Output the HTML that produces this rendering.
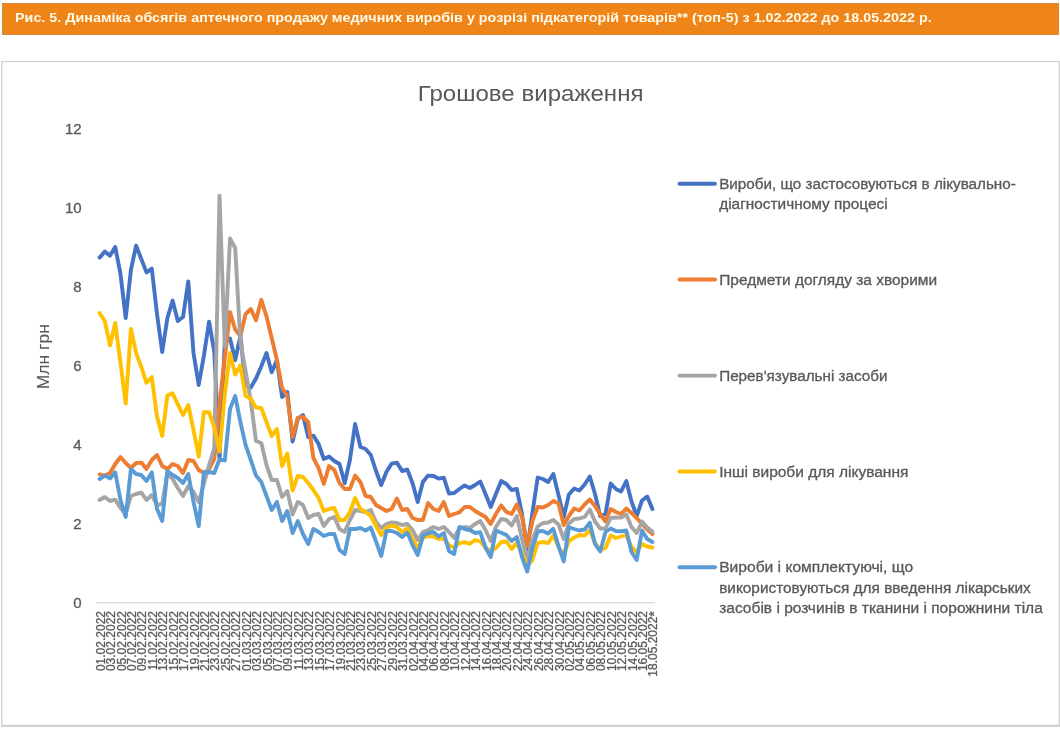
<!DOCTYPE html>
<html><head><meta charset="utf-8">
<style>
html,body{margin:0;padding:0;background:#fff;}
body{width:1060px;height:729px;position:relative;overflow:hidden;font-family:"Liberation Sans",sans-serif;}
#banner{position:absolute;left:2px;top:3px;width:1057px;height:32px;background:#EF8418;box-sizing:border-box;border:1px solid #D98A3C;}
#banner span{position:absolute;left:12px;top:5.7px;font-weight:bold;font-size:13.5px;line-height:16px;color:#FFFBEA;white-space:nowrap;transform:scaleX(1.062);transform-origin:0 0;will-change:transform;}
#frame{position:absolute;left:1px;top:61px;width:1058px;height:666px;box-sizing:border-box;border:2px solid #D4D4D4;border-top-width:1px;background:#fff;}
svg{position:absolute;left:0;top:0;will-change:transform;}
svg text{font-family:"Liberation Sans",sans-serif;fill:#595959;stroke:#595959;stroke-width:0.3px;}
.xl{font-size:12.0px;}
.yl{font-size:15px;}
.lg{font-size:14px;}
.ttl{font-size:22.5px;stroke-width:0;}
.yt{font-size:17px;stroke-width:0.1px;}
path{fill:none;stroke-width:3.9;stroke-linejoin:round;stroke-linecap:round;}
</style></head><body>
<div id="banner"><span>Рис. 5. Динаміка обсягів аптечного продажу медичних виробів у розрізі підкатегорій товарів** (топ-5) з 1.02.2022 до 18.05.2022 р.</span></div>
<svg width="1060" height="729" viewBox="0 0 1060 729">
<g stroke="#D2D2D2" fill="none">
<line x1="1" x2="1060" y1="61.6" y2="61.6" stroke-width="1.1"/>
<line x1="1.7" x2="1.7" y1="61" y2="727" stroke-width="1.4"/>
<line x1="1059.3" x2="1059.3" y1="61" y2="727" stroke-width="1.4"/>
<line x1="1" x2="1060" y1="725.8" y2="725.8" stroke-width="2.3" stroke="#D0D0D0"/>
</g>
<text x="530.6" y="100.7" text-anchor="middle" class="ttl" textLength="225.7" lengthAdjust="spacingAndGlyphs">Грошове вираження</text>
<text transform="translate(48.7 356.7) rotate(-90)" text-anchor="middle" class="yt" textLength="65" lengthAdjust="spacingAndGlyphs">Млн грн</text>
<line x1="96.5" x2="655" y1="602.6" y2="602.6" stroke="#D9D9D9" stroke-width="1.2"/>
<text x="81.6" y="607.9" text-anchor="end" class="yl">0</text>
<text x="81.6" y="529.0" text-anchor="end" class="yl">2</text>
<text x="81.6" y="450.1" text-anchor="end" class="yl">4</text>
<text x="81.6" y="371.1" text-anchor="end" class="yl">6</text>
<text x="81.6" y="292.2" text-anchor="end" class="yl">8</text>
<text x="81.6" y="213.3" text-anchor="end" class="yl">10</text>
<text x="81.6" y="134.4" text-anchor="end" class="yl">12</text>
<text transform="translate(104.6 611.0) rotate(-90)" text-anchor="end" class="xl">01.02.2022</text>
<text transform="translate(115.0 611.0) rotate(-90)" text-anchor="end" class="xl">03.02.2022</text>
<text transform="translate(125.5 611.0) rotate(-90)" text-anchor="end" class="xl">05.02.2022</text>
<text transform="translate(135.9 611.0) rotate(-90)" text-anchor="end" class="xl">07.02.2022</text>
<text transform="translate(146.3 611.0) rotate(-90)" text-anchor="end" class="xl">09.02.2022</text>
<text transform="translate(156.8 611.0) rotate(-90)" text-anchor="end" class="xl">11.02.2022</text>
<text transform="translate(167.2 611.0) rotate(-90)" text-anchor="end" class="xl">13.02.2022</text>
<text transform="translate(177.6 611.0) rotate(-90)" text-anchor="end" class="xl">15.02.2022</text>
<text transform="translate(188.0 611.0) rotate(-90)" text-anchor="end" class="xl">17.02.2022</text>
<text transform="translate(198.5 611.0) rotate(-90)" text-anchor="end" class="xl">19.02.2022</text>
<text transform="translate(208.9 611.0) rotate(-90)" text-anchor="end" class="xl">21.02.2022</text>
<text transform="translate(219.3 611.0) rotate(-90)" text-anchor="end" class="xl">23.02.2022</text>
<text transform="translate(229.8 611.0) rotate(-90)" text-anchor="end" class="xl">25.02.2022</text>
<text transform="translate(240.2 611.0) rotate(-90)" text-anchor="end" class="xl">27.02.2022</text>
<text transform="translate(250.6 611.0) rotate(-90)" text-anchor="end" class="xl">01.03.2022</text>
<text transform="translate(261.0 611.0) rotate(-90)" text-anchor="end" class="xl">03.03.2022</text>
<text transform="translate(271.5 611.0) rotate(-90)" text-anchor="end" class="xl">05.03.2022</text>
<text transform="translate(281.9 611.0) rotate(-90)" text-anchor="end" class="xl">07.03.2022</text>
<text transform="translate(292.3 611.0) rotate(-90)" text-anchor="end" class="xl">09.03.2022</text>
<text transform="translate(302.8 611.0) rotate(-90)" text-anchor="end" class="xl">11.03.2022</text>
<text transform="translate(313.2 611.0) rotate(-90)" text-anchor="end" class="xl">13.03.2022</text>
<text transform="translate(323.6 611.0) rotate(-90)" text-anchor="end" class="xl">15.03.2022</text>
<text transform="translate(334.1 611.0) rotate(-90)" text-anchor="end" class="xl">17.03.2022</text>
<text transform="translate(344.5 611.0) rotate(-90)" text-anchor="end" class="xl">19.03.2022</text>
<text transform="translate(354.9 611.0) rotate(-90)" text-anchor="end" class="xl">21.03.2022</text>
<text transform="translate(365.4 611.0) rotate(-90)" text-anchor="end" class="xl">23.03.2022</text>
<text transform="translate(375.8 611.0) rotate(-90)" text-anchor="end" class="xl">25.03.2022</text>
<text transform="translate(386.2 611.0) rotate(-90)" text-anchor="end" class="xl">27.03.2022</text>
<text transform="translate(396.6 611.0) rotate(-90)" text-anchor="end" class="xl">29.03.2022</text>
<text transform="translate(407.1 611.0) rotate(-90)" text-anchor="end" class="xl">31.03.2022</text>
<text transform="translate(417.5 611.0) rotate(-90)" text-anchor="end" class="xl">02.04.2022</text>
<text transform="translate(427.9 611.0) rotate(-90)" text-anchor="end" class="xl">04.04.2022</text>
<text transform="translate(438.4 611.0) rotate(-90)" text-anchor="end" class="xl">06.04.2022</text>
<text transform="translate(448.8 611.0) rotate(-90)" text-anchor="end" class="xl">08.04.2022</text>
<text transform="translate(459.2 611.0) rotate(-90)" text-anchor="end" class="xl">10.04.2022</text>
<text transform="translate(469.6 611.0) rotate(-90)" text-anchor="end" class="xl">12.04.2022</text>
<text transform="translate(480.1 611.0) rotate(-90)" text-anchor="end" class="xl">14.04.2022</text>
<text transform="translate(490.5 611.0) rotate(-90)" text-anchor="end" class="xl">16.04.2022</text>
<text transform="translate(500.9 611.0) rotate(-90)" text-anchor="end" class="xl">18.04.2022</text>
<text transform="translate(511.4 611.0) rotate(-90)" text-anchor="end" class="xl">20.04.2022</text>
<text transform="translate(521.8 611.0) rotate(-90)" text-anchor="end" class="xl">22.04.2022</text>
<text transform="translate(532.2 611.0) rotate(-90)" text-anchor="end" class="xl">24.04.2022</text>
<text transform="translate(542.7 611.0) rotate(-90)" text-anchor="end" class="xl">26.04.2022</text>
<text transform="translate(553.1 611.0) rotate(-90)" text-anchor="end" class="xl">28.04.2022</text>
<text transform="translate(563.5 611.0) rotate(-90)" text-anchor="end" class="xl">30.04.2022</text>
<text transform="translate(573.9 611.0) rotate(-90)" text-anchor="end" class="xl">02.05.2022</text>
<text transform="translate(584.4 611.0) rotate(-90)" text-anchor="end" class="xl">04.05.2022</text>
<text transform="translate(594.8 611.0) rotate(-90)" text-anchor="end" class="xl">06.05.2022</text>
<text transform="translate(605.2 611.0) rotate(-90)" text-anchor="end" class="xl">08.05.2022</text>
<text transform="translate(615.7 611.0) rotate(-90)" text-anchor="end" class="xl">10.05.2022</text>
<text transform="translate(626.1 611.0) rotate(-90)" text-anchor="end" class="xl">12.05.2022</text>
<text transform="translate(636.5 611.0) rotate(-90)" text-anchor="end" class="xl">14.05.2022</text>
<text transform="translate(647.0 611.0) rotate(-90)" text-anchor="end" class="xl">16.05.2022</text>
<text transform="translate(657.4 611.0) rotate(-90)" text-anchor="end" class="xl">18.05.2022<tspan font-size="14.5" dy="1.5">*</tspan></text>
<path d="M99.6 257.6 L104.8 251.6 L110.0 255.6 L115.2 247.0 L120.5 274.0 L125.7 318.0 L130.9 270.0 L136.1 245.6 L141.3 259.0 L146.5 272.4 L151.8 268.6 L157.0 314.0 L162.2 352.0 L167.4 318.0 L172.6 300.6 L177.8 321.0 L183.0 317.0 L188.3 281.4 L193.5 353.0 L198.7 385.0 L203.9 355.5 L209.1 321.6 L214.3 352.0 L219.5 458.0 L224.8 342.0 L230.0 338.5 L235.2 360.0 L240.4 336.0 L245.6 385.0 L250.8 387.5 L256.0 378.5 L261.3 366.2 L266.5 353.0 L271.7 372.2 L276.9 360.0 L282.1 397.0 L287.3 392.0 L292.6 441.5 L297.8 419.0 L303.0 415.0 L308.2 437.0 L313.4 435.6 L318.6 444.0 L323.8 459.0 L329.1 456.6 L334.3 461.0 L339.5 464.0 L344.7 483.0 L349.9 460.0 L355.1 424.0 L360.4 447.0 L365.6 449.0 L370.8 455.0 L376.0 471.0 L381.2 485.0 L386.4 472.0 L391.6 463.6 L396.9 462.6 L402.1 471.0 L407.3 469.6 L412.5 483.0 L417.7 502.0 L422.9 482.0 L428.1 475.6 L433.4 476.0 L438.6 478.6 L443.8 477.6 L449.0 493.6 L454.2 493.0 L459.4 489.0 L464.6 485.4 L469.9 488.0 L475.1 485.0 L480.3 481.5 L485.5 494.0 L490.7 507.0 L495.9 494.0 L501.2 481.0 L506.4 484.0 L511.6 490.0 L516.8 489.0 L522.0 514.0 L527.2 549.0 L532.4 513.0 L537.7 477.5 L542.9 479.0 L548.1 482.0 L553.3 474.0 L558.5 495.0 L563.7 517.0 L568.9 494.5 L574.2 488.5 L579.4 490.5 L584.6 484.5 L589.8 476.5 L595.0 494.0 L600.2 516.0 L605.5 514.0 L610.7 483.5 L615.9 489.0 L621.1 491.5 L626.3 481.0 L631.5 501.5 L636.7 516.0 L642.0 500.5 L647.2 496.5 L652.4 509.0" stroke="#4472C4"/>
<path d="M99.6 474.4 L104.8 475.6 L110.0 473.0 L115.2 464.0 L120.5 457.0 L125.7 463.0 L130.9 468.0 L136.1 463.0 L141.3 462.6 L146.5 469.0 L151.8 460.0 L157.0 455.0 L162.2 466.0 L167.4 469.0 L172.6 464.0 L177.8 466.0 L183.0 473.0 L188.3 460.0 L193.5 461.0 L198.7 470.0 L203.9 473.0 L209.1 469.0 L214.3 459.0 L219.5 404.0 L224.8 358.0 L230.0 312.0 L235.2 329.5 L240.4 336.0 L245.6 314.0 L250.8 309.0 L256.0 320.2 L261.3 299.8 L266.5 316.3 L271.7 338.0 L276.9 360.0 L282.1 388.0 L287.3 396.0 L292.6 437.0 L297.8 417.6 L303.0 417.0 L308.2 422.0 L313.4 458.0 L318.6 468.0 L323.8 484.0 L329.1 466.0 L334.3 470.0 L339.5 483.0 L344.7 489.0 L349.9 489.0 L355.1 475.6 L360.4 482.0 L365.6 496.0 L370.8 497.0 L376.0 505.0 L381.2 508.0 L386.4 511.0 L391.6 509.0 L396.9 498.6 L402.1 510.0 L407.3 509.0 L412.5 518.0 L417.7 520.0 L422.9 520.0 L428.1 503.0 L433.4 509.0 L438.6 511.0 L443.8 502.0 L449.0 516.0 L454.2 514.0 L459.4 512.4 L464.6 507.0 L469.9 507.0 L475.1 511.0 L480.3 514.0 L485.5 517.0 L490.7 524.0 L495.9 514.0 L501.2 505.5 L506.4 512.0 L511.6 514.0 L516.8 504.5 L522.0 517.0 L527.2 546.0 L532.4 521.0 L537.7 507.0 L542.9 507.5 L548.1 505.0 L553.3 501.0 L558.5 503.5 L563.7 525.0 L568.9 516.0 L574.2 508.5 L579.4 510.5 L584.6 504.5 L589.8 499.5 L595.0 506.0 L600.2 514.0 L605.5 521.5 L610.7 509.0 L615.9 512.0 L621.1 514.0 L626.3 508.5 L631.5 513.0 L636.7 518.0 L642.0 524.0 L647.2 529.5 L652.4 534.0" stroke="#ED7D31"/>
<path d="M99.6 500.0 L104.8 497.0 L110.0 501.0 L115.2 499.6 L120.5 508.0 L125.7 514.0 L130.9 496.0 L136.1 494.0 L141.3 492.6 L146.5 500.0 L151.8 495.0 L157.0 505.0 L162.2 504.0 L167.4 473.0 L172.6 479.0 L177.8 488.0 L183.0 496.0 L188.3 486.0 L193.5 492.0 L198.7 502.0 L203.9 484.0 L209.1 465.0 L214.3 448.0 L219.5 195.6 L224.8 347.0 L230.0 238.4 L235.2 248.0 L240.4 342.0 L245.6 371.0 L250.8 401.0 L256.0 441.0 L261.3 443.0 L266.5 465.0 L271.7 480.0 L276.9 480.0 L282.1 497.0 L287.3 491.0 L292.6 514.5 L297.8 502.0 L303.0 505.0 L308.2 518.0 L313.4 515.0 L318.6 514.0 L323.8 526.0 L329.1 519.0 L334.3 517.0 L339.5 529.0 L344.7 532.0 L349.9 520.0 L355.1 510.0 L360.4 511.0 L365.6 512.0 L370.8 510.0 L376.0 522.0 L381.2 528.0 L386.4 524.0 L391.6 522.4 L396.9 523.0 L402.1 525.0 L407.3 524.0 L412.5 530.0 L417.7 540.0 L422.9 532.0 L428.1 530.0 L433.4 527.0 L438.6 529.0 L443.8 527.0 L449.0 532.0 L454.2 538.0 L459.4 528.0 L464.6 527.0 L469.9 528.0 L475.1 524.0 L480.3 521.0 L485.5 530.0 L490.7 541.0 L495.9 527.0 L501.2 519.0 L506.4 520.0 L511.6 525.5 L516.8 516.0 L522.0 539.0 L527.2 559.0 L532.4 540.0 L537.7 526.5 L542.9 523.0 L548.1 522.5 L553.3 520.0 L558.5 524.5 L563.7 539.0 L568.9 523.5 L574.2 519.0 L579.4 518.5 L584.6 517.0 L589.8 509.5 L595.0 521.5 L600.2 528.5 L605.5 528.5 L610.7 518.0 L615.9 517.5 L621.1 517.5 L626.3 514.5 L631.5 527.0 L636.7 533.0 L642.0 521.5 L647.2 527.5 L652.4 531.5" stroke="#A5A5A5"/>
<path d="M99.6 313.0 L104.8 321.0 L110.0 345.4 L115.2 323.0 L120.5 363.0 L125.7 403.5 L130.9 329.0 L136.1 353.0 L141.3 367.0 L146.5 382.8 L151.8 377.0 L157.0 416.5 L162.2 436.0 L167.4 395.5 L172.6 393.3 L177.8 404.3 L183.0 415.0 L188.3 405.0 L193.5 430.0 L198.7 456.5 L203.9 412.2 L209.1 412.2 L214.3 427.5 L219.5 451.5 L224.8 394.0 L230.0 353.0 L235.2 374.5 L240.4 365.5 L245.6 396.0 L250.8 398.5 L256.0 407.5 L261.3 408.0 L266.5 422.0 L271.7 436.0 L276.9 429.0 L282.1 466.0 L287.3 453.5 L292.6 490.5 L297.8 476.0 L303.0 477.0 L308.2 483.0 L313.4 490.0 L318.6 498.0 L323.8 511.0 L329.1 509.0 L334.3 508.0 L339.5 520.0 L344.7 520.0 L349.9 512.0 L355.1 498.0 L360.4 509.0 L365.6 512.0 L370.8 516.0 L376.0 526.0 L381.2 535.0 L386.4 528.0 L391.6 525.6 L396.9 527.0 L402.1 532.0 L407.3 528.0 L412.5 539.0 L417.7 548.0 L422.9 538.0 L428.1 536.0 L433.4 536.5 L438.6 539.0 L443.8 538.5 L449.0 545.5 L454.2 547.5 L459.4 543.0 L464.6 542.2 L469.9 543.8 L475.1 540.0 L480.3 541.5 L485.5 547.5 L490.7 551.0 L495.9 548.0 L501.2 542.0 L506.4 541.5 L511.6 549.0 L516.8 543.0 L522.0 553.0 L527.2 565.0 L532.4 560.0 L537.7 543.0 L542.9 542.0 L548.1 543.0 L553.3 535.5 L558.5 547.0 L563.7 555.0 L568.9 541.0 L574.2 537.5 L579.4 535.0 L584.6 535.5 L589.8 530.0 L595.0 543.0 L600.2 550.0 L605.5 548.0 L610.7 535.5 L615.9 538.0 L621.1 536.5 L626.3 535.0 L631.5 547.0 L636.7 552.0 L642.0 544.0 L647.2 546.5 L652.4 547.5" stroke="#FFC000"/>
<path d="M99.6 479.0 L104.8 475.6 L110.0 478.4 L115.2 472.4 L120.5 500.0 L125.7 517.0 L130.9 469.0 L136.1 474.0 L141.3 475.0 L146.5 481.0 L151.8 472.4 L157.0 509.0 L162.2 521.0 L167.4 471.0 L172.6 475.0 L177.8 478.0 L183.0 483.0 L188.3 474.0 L193.5 502.0 L198.7 526.0 L203.9 472.5 L209.1 472.0 L214.3 473.0 L219.5 459.3 L224.8 460.4 L230.0 409.0 L235.2 396.0 L240.4 422.0 L245.6 445.0 L250.8 460.0 L256.0 475.5 L261.3 482.0 L266.5 496.0 L271.7 510.0 L276.9 502.0 L282.1 521.0 L287.3 511.0 L292.6 533.0 L297.8 521.0 L303.0 534.0 L308.2 544.0 L313.4 529.0 L318.6 532.0 L323.8 536.0 L329.1 534.0 L334.3 534.0 L339.5 550.0 L344.7 554.0 L349.9 529.0 L355.1 529.0 L360.4 528.0 L365.6 530.5 L370.8 527.5 L376.0 541.5 L381.2 556.0 L386.4 531.0 L391.6 531.0 L396.9 533.0 L402.1 537.0 L407.3 532.5 L412.5 545.0 L417.7 555.0 L422.9 536.0 L428.1 533.0 L433.4 532.0 L438.6 536.5 L443.8 533.0 L449.0 551.0 L454.2 554.0 L459.4 527.0 L464.6 529.0 L469.9 530.0 L475.1 533.0 L480.3 532.3 L485.5 547.5 L490.7 557.0 L495.9 530.5 L501.2 532.7 L506.4 535.0 L511.6 541.0 L516.8 537.0 L522.0 557.0 L527.2 571.5 L532.4 548.0 L537.7 531.5 L542.9 531.0 L548.1 533.5 L553.3 528.7 L558.5 546.0 L563.7 561.5 L568.9 527.3 L574.2 529.0 L579.4 530.5 L584.6 529.5 L589.8 522.8 L595.0 544.0 L600.2 551.5 L605.5 532.0 L610.7 528.5 L615.9 531.0 L621.1 531.3 L626.3 530.5 L631.5 552.0 L636.7 560.0 L642.0 530.5 L647.2 539.0 L652.4 542.0" stroke="#5B9BD5"/>
<line x1="679.5" x2="715" y1="183.7" y2="183.7" stroke="#4472C4" stroke-width="3.9" stroke-linecap="round"/>
<text x="719.2" y="188.7" class="lg" textLength="296.6" lengthAdjust="spacingAndGlyphs">Вироби, що застосовуються в лікувально-</text>
<text x="719.2" y="208.9" class="lg" textLength="168.5" lengthAdjust="spacingAndGlyphs">діагностичному процесі</text>
<line x1="679.5" x2="715" y1="279.5" y2="279.5" stroke="#ED7D31" stroke-width="3.9" stroke-linecap="round"/>
<text x="719.2" y="284.5" class="lg" textLength="217.9" lengthAdjust="spacingAndGlyphs">Предмети догляду за хворими</text>
<line x1="679.5" x2="715" y1="375.6" y2="375.6" stroke="#A5A5A5" stroke-width="3.9" stroke-linecap="round"/>
<text x="719.2" y="380.6" class="lg" textLength="168.3" lengthAdjust="spacingAndGlyphs">Перев'язувальні засоби</text>
<line x1="679.5" x2="715" y1="471.5" y2="471.5" stroke="#FFC000" stroke-width="3.9" stroke-linecap="round"/>
<text x="719.2" y="476.5" class="lg" textLength="189.2" lengthAdjust="spacingAndGlyphs">Інші вироби для лікування</text>
<line x1="679.5" x2="715" y1="567.3" y2="567.3" stroke="#5B9BD5" stroke-width="3.9" stroke-linecap="round"/>
<text x="719.2" y="572.3" class="lg" textLength="193.9" lengthAdjust="spacingAndGlyphs">Вироби і комплектуючі, що</text>
<text x="719.2" y="592.5" class="lg" textLength="311.6" lengthAdjust="spacingAndGlyphs">використовуються для введення лікарських</text>
<text x="719.2" y="612.7" class="lg" textLength="323.6" lengthAdjust="spacingAndGlyphs">засобів і розчинів в тканини і порожнини тіла</text>
</svg>
</body></html>
